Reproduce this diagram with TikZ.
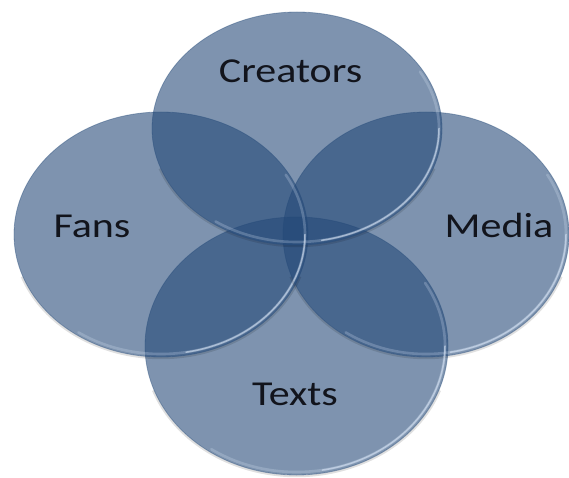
\documentclass[tikz,border=0pt]{standalone}
\usepackage{fontspec}
\setmainfont{Carlito}
\usetikzlibrary{shapes.geometric}
\definecolor{discblue}{RGB}{35,72,119}
\definecolor{rimblue}{RGB}{215,228,245}
\definecolor{labelink}{RGB}{18,20,28}

\begin{document}
\begin{tikzpicture}[x=1pt,y=1pt,
  disc/.style={ellipse,inner sep=0pt,fill=discblue,fill opacity=0.59,draw=discblue,draw opacity=0.4,line width=0.8pt},
  rim/.style={rimblue,line width=2.6pt,opacity=0.25,line cap=round},
  glint/.style={rimblue,line width=1.5pt,opacity=0.6,line cap=round},
  drop/.style={black,line width=2pt,opacity=0.12},
  lbl/.style={anchor=base,text=labelink,font=\fontsize{35}{40}\selectfont,xscale=1.2,transform shape}]
\useasboundingbox (0,0) rectangle (569,477);
\node[disc,minimum width=290pt,minimum height=233pt] (cre) at (297,348.5) {};
\node[disc,minimum width=294pt,minimum height=245pt] (fan) at (161,242.5) {};
\node[disc,minimum width=286pt,minimum height=245pt] (med) at (426,242.5) {};
\node[disc,minimum width=303pt,minimum height=258pt] (txt) at (296.5,131) {};
% bevel: shadow below, light rim on the lower right
\foreach \d/\rx/\ry in {cre/145/116.5,fan/147/122.5,med/143/122.5,txt/151.5/129}{
  \draw[drop] (\d.center) ++(-160:\rx+1.2 and \ry+1.2) arc[start angle=-160,end angle=-20,x radius=\rx+1.2,y radius=\ry+1.2];
  \draw[rim] (\d.center) ++(-125:\rx-3 and \ry-3) arc[start angle=-125,end angle=30,x radius=\rx-3,y radius=\ry-3];
  \draw[glint] (\d.center) ++(-80:\rx-3 and \ry-3) arc[start angle=-80,end angle=0,x radius=\rx-3,y radius=\ry-3];
}
\node[lbl] (lcre) at (290.5,394) {Creators};
\node[lbl] (lfan) at (92,240) {Fans};
\node[lbl] (lmed) at (499,240) {Media};
\node[lbl] (ltxt) at (295,72) {Texts};
\end{tikzpicture}
\end{document}
